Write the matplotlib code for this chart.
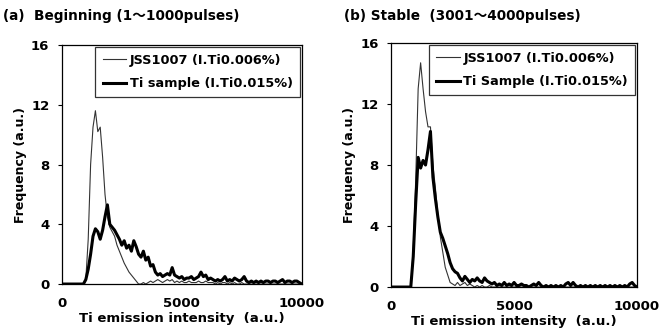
import matplotlib.pyplot as plt

plt.rcParams['font.family'] = ['DejaVu Sans', 'Noto Sans CJK JP']
plt.rcParams['font.weight'] = 'bold'

# bin centres of the intensity histogram
intensity = list(range(0, 10001, 100))

# (a) beginning, 1-1000 pulses
jss_a = [0, 0, 0, 0, 0, 0, 0, 0, 0, 0,
         0.3, 3.0, 8.0, 10.5, 11.6, 10.2, 10.5, 8.5, 6.0, 4.5,
         3.8, 3.5, 3.2, 2.6, 2.2, 1.8, 1.4, 1.1, 0.8, 0.6,
         0.4, 0.2, 0.0, 0.0, 0.1, 0.0, 0.1, 0.2, 0.1, 0.2,
         0.3, 0.2, 0.1, 0.2, 0.3, 0.2, 0.3, 0.1, 0.2, 0.1,
         0.2, 0.1, 0.1, 0.2, 0.1, 0.1, 0.1, 0.2, 0.1, 0.1,
         0.2, 0.1, 0.1, 0.1, 0.0, 0.1, 0.0, 0.1, 0.1, 0.0,
         0.1, 0.0, 0.1, 0.0, 0.0, 0.1, 0.0, 0.0, 0.0, 0.0,
         0.0, 0.0, 0.0, 0.0, 0.0, 0.0, 0.0, 0.0, 0.0, 0.0,
         0.0, 0.0, 0.0, 0.0, 0.0, 0.0, 0.0, 0.0, 0.0, 0.0, 0]
ti_a = [0, 0, 0, 0, 0, 0, 0, 0, 0, 0,
        0.3, 1.0, 2.0, 3.2, 3.7, 3.5, 3.0, 3.6, 4.5, 5.3,
        4.0, 3.8, 3.6, 3.3, 3.0, 2.6, 2.9, 2.4, 2.6, 2.2,
        2.9, 2.5, 2.0, 1.8, 2.2, 1.6, 1.8, 1.2, 1.3, 0.8,
        0.6, 0.7, 0.5, 0.6, 0.7, 0.6, 1.1, 0.6, 0.5, 0.4,
        0.5, 0.3, 0.4, 0.4, 0.5, 0.3, 0.4, 0.5, 0.8, 0.5,
        0.6, 0.3, 0.4, 0.3, 0.2, 0.3, 0.2, 0.3, 0.5, 0.2,
        0.3, 0.2, 0.4, 0.3, 0.2, 0.3, 0.5, 0.2, 0.1, 0.2,
        0.1, 0.2, 0.1, 0.2, 0.1, 0.2, 0.2, 0.1, 0.2, 0.2,
        0.1, 0.2, 0.3, 0.1, 0.2, 0.2, 0.1, 0.2, 0.2, 0.1, 0]

# (b) stable, 3001-4000 pulses
jss_b = [0, 0, 0, 0, 0, 0, 0, 0, 0, 2.5,
         7.0, 13.0, 14.7, 13.0, 11.5, 10.5, 10.5, 8.0, 6.5, 4.8,
         3.3, 2.3, 1.3, 0.8, 0.3, 0.2, 0.1, 0.3, 0.1, 0.2,
         0.3, 0.1, 0.2, 0.1, 0.0, 0.1, 0.0, 0.1, 0.0, 0.0,
         0.1, 0.0, 0.0, 0.0, 0.0, 0.0, 0.0, 0.0, 0.0, 0.0,
         0.0, 0.0, 0.0, 0.0, 0.0, 0.0, 0.0, 0.0, 0.0, 0.0,
         0.0, 0.0, 0.0, 0.0, 0.0, 0.0, 0.0, 0.0, 0.0, 0.0,
         0.0, 0.0, 0.0, 0.0, 0.0, 0.0, 0.0, 0.0, 0.0, 0.0,
         0.0, 0.0, 0.0, 0.0, 0.0, 0.0, 0.0, 0.0, 0.0, 0.0,
         0.0, 0.0, 0.0, 0.0, 0.0, 0.0, 0.0, 0.0, 0.0, 0.0, 0]
ti_b = [0, 0, 0, 0, 0, 0, 0, 0, 0, 2.0,
        5.5, 8.5, 7.8, 8.3, 8.0, 9.0, 10.2, 7.2, 5.8, 4.6,
        3.6, 3.2, 2.7, 2.2, 1.6, 1.2, 1.0, 0.9, 0.6, 0.4,
        0.7, 0.5, 0.3, 0.5, 0.4, 0.6, 0.4, 0.3, 0.6, 0.4,
        0.3, 0.2, 0.3, 0.1, 0.2, 0.1, 0.3, 0.1, 0.2, 0.1,
        0.3, 0.1, 0.1, 0.2, 0.1, 0.1, 0.0, 0.1, 0.2, 0.1,
        0.3, 0.1, 0.0, 0.1, 0.0, 0.1, 0.0, 0.1, 0.0, 0.1,
        0.0, 0.2, 0.3, 0.1, 0.3, 0.1, 0.0, 0.1, 0.0, 0.1,
        0.0, 0.1, 0.0, 0.1, 0.0, 0.1, 0.0, 0.1, 0.0, 0.1,
        0.0, 0.1, 0.0, 0.1, 0.0, 0.1, 0.0, 0.2, 0.3, 0.1, 0]

panels = [
    ("(a)  Beginning (1\uff5e1000pulses)", jss_a, ti_a, "Ti sample (I.Ti0.015%)",
     [0.092, 0.147, 0.357, 0.718], 0.005),
    ("(b) Stable  (3001\uff5e4000pulses)", jss_b, ti_b, "Ti Sample (I.Ti0.015%)",
     [0.582, 0.138, 0.366, 0.733], 0.512),
]

fig = plt.figure(figsize=(6.72, 3.33), dpi=100)
for title, jss, ti, ti_label, pos, tx in panels:
    ax = fig.add_axes(pos)
    ax.plot(intensity, jss, color="#333333", lw=0.8, label="JSS1007 (I.Ti0.006%)")
    ax.plot(intensity, ti, color="black", lw=2.2, label=ti_label)
    ax.set_xlim(0, 10000)
    ax.set_ylim(0, 16)
    ax.set_xticks([0, 5000, 10000])
    ax.set_yticks([0, 4, 8, 12, 16])
    ax.tick_params(axis="x", labelsize=9.5, length=0, pad=9)
    ax.tick_params(axis="y", labelsize=9.5, length=3, width=0.8, pad=6)
    for s in ax.spines.values():
        s.set_linewidth(0.9)
    ax.set_ylabel("Frequency (a.u.)", fontsize=9, fontweight="bold", labelpad=3)
    ax.set_xlabel("Ti emission intensity  (a.u.)", fontsize=9.5, fontweight="bold", labelpad=2)
    leg = ax.legend(loc="upper right", fontsize=9.3, frameon=True, fancybox=False,
                    edgecolor="black", handlelength=1.8, borderaxespad=0.15,
                    borderpad=0.55, labelspacing=0.8, handletextpad=0.3)
    leg.get_frame().set_linewidth(0.9)
    fig.text(tx, 0.952, title, fontsize=9.8, fontweight="bold", ha="left", va="center")

fig.savefig("out.png", dpi=100)
